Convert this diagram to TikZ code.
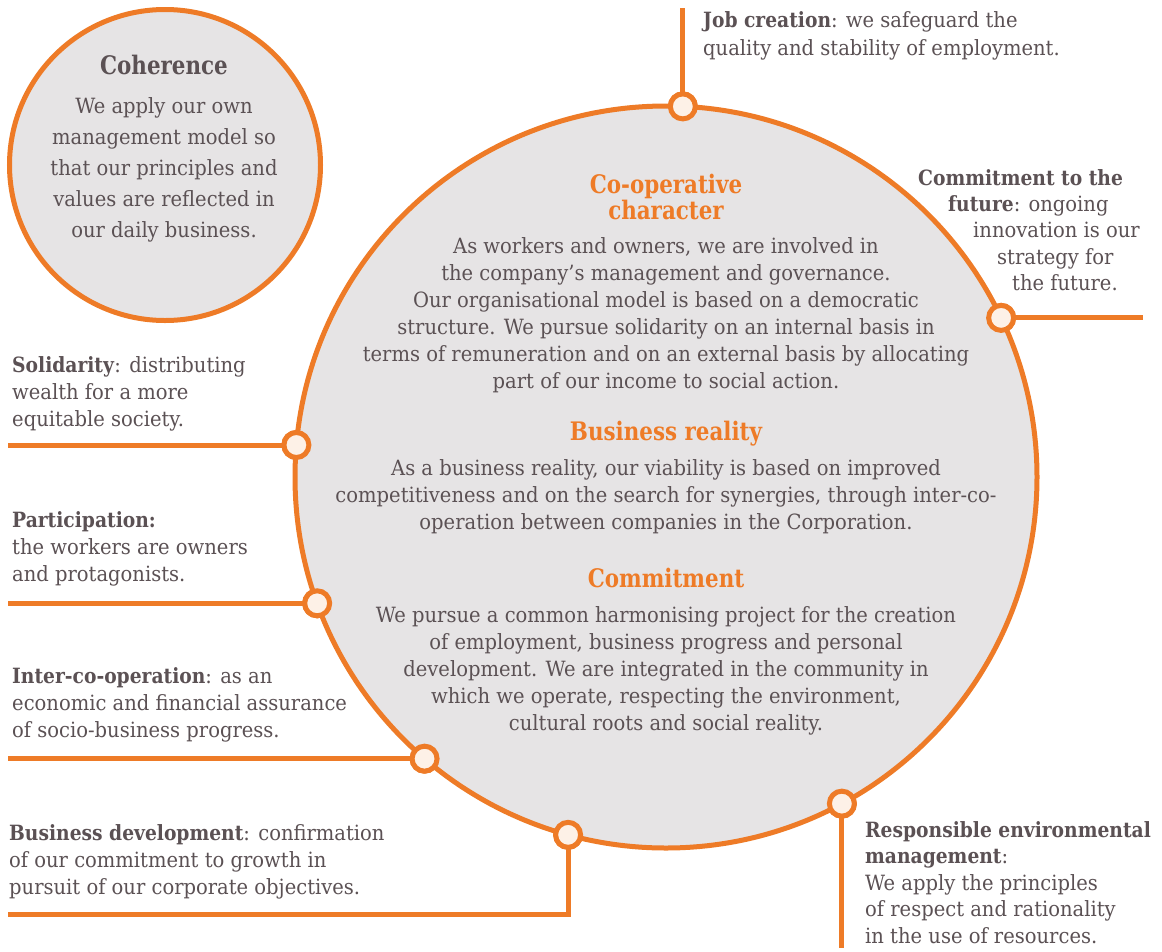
\documentclass[tikz,border=0pt]{standalone}
\usepackage{fontspec}
\setmainfont[FakeStretch=0.93,BoldFeatures={FakeStretch=0.89}]{DejaVu Serif}
\newfontfamily\condfont[FakeStretch=0.84]{DejaVu Serif}
\usetikzlibrary{calc}
\definecolor{orng}{HTML}{EE7B27}
\definecolor{circfill}{HTML}{E6E4E5}
\definecolor{txt}{HTML}{5B5154}
\definecolor{dotfill}{HTML}{FDF1E7}
\newcommand\st{\rule{0pt}{20pt}}
\begin{document}
\begin{tikzpicture}[x=1pt,y=-1pt,
  conn/.style={draw=orng,line width=5pt},
  ring/.style={draw=orng,fill=circfill,line width=5pt},
  dotnode/.style={circle,draw=orng,fill=dotfill,line width=5pt,minimum size=25pt,inner sep=0pt},
  body/.style={inner sep=0pt,text=txt,align=center,anchor=north,font=\fontsize{21}{27}\selectfont},
  lbl/.style={inner sep=0pt,text=txt,align=left,anchor=north west,font=\fontsize{21}{27}\selectfont},
  head/.style={inner sep=0pt,text=orng,align=center,anchor=north,font=\condfont\bfseries\fontsize{25.5}{26.5}\selectfont}]
\fill[white] (0,0) rectangle (1162,951);
\useasboundingbox (0,0) rectangle (1162,951);

% coherence circle
\draw[ring] (165,165) circle[radius=155.5];
\node[head,text=txt,font=\condfont\bfseries\fontsize{25.5}{28}\selectfont] (cohh) at (164,74-20) {\st Coherence};
\node[body,font=\fontsize{21}{31}\selectfont] (cohb) at (164,113-20) {\st We apply our own\\management model so\\that our principles and\\values are reflected in\\our daily business.};

% main circle and dots
\coordinate (c) at (666,477);
\node[dotnode] (djob) at ($(c)+(-87.4:371)$) {};
\node[dotnode] (dfut) at ($(c)+(-25.4:371)$) {};
\node[dotnode] (dsol) at ($(c)+(-175.05:371)$) {};
\node[dotnode] (dpar) at ($(c)+(160.1:371)$) {};
\node[dotnode] (dint) at ($(c)+(130.6:371)$) {};
\node[dotnode] (dbus) at ($(c)+(105.3:371)$) {};
\node[dotnode] (denv) at ($(c)+(61.7:371)$) {};

\coordinate (ejob) at (djob |- 0,8);
\coordinate (efut) at (dfut -| 1143,0);
\coordinate (esol) at (dsol -| 8,0);
\coordinate (epar) at (dpar -| 8,0);
\coordinate (eint) at (dint -| 8,0);
\coordinate (ebus) at (8,914);
\coordinate (eenv) at (denv |- 0,948);

\draw[conn] (djob.center) -- (ejob);
\draw[conn] (dfut.center) -- (efut);
\draw[conn] (dsol.center) -- (esol);
\draw[conn] (dpar.center) -- (epar);
\draw[conn] (dint.center) -- (eint);
\draw[conn] (dbus.center) |- (ebus);
\draw[conn] (denv.center) -- (eenv);

\draw[ring] (c) circle[radius=371];
\foreach \d in {djob,dfut,dsol,dpar,dint,dbus,denv}
  \draw[orng,fill=dotfill,line width=5pt] (\d.center) circle[radius=12.5];

% central texts
\node[head] (h1) at (666,193-20) {\st Co-operative\\character};
\node[body] (b1) at (666,253-20) {\st As workers and owners, we are involved in\\the company’s management and governance.\\Our organisational model is based on a democratic\\structure. We pursue solidarity on an internal basis in\\terms of remuneration and on an external basis by allocating\\part of our income to social action.};
\node[head] (h2) at (666,440-20) {\st Business reality};
\node[body] (b2) at (666,475-20) {\st As a business reality, our viability is based on improved\\competitiveness and on the search for synergies, through inter-co-\\operation between companies in the Corporation.};
\node[head] (h3) at (666,587-20) {\st Commitment};
\node[body] (b3) at (666,622-20) {\st We pursue a common harmonising project for the creation\\of employment, business progress and personal\\development. We are integrated in the community in\\which we operate, respecting the environment,\\cultural roots and social reality.};

% outer labels
\node[lbl,font=\fontsize{21}{28}\selectfont] (ljob) at (703,27-20) {\st\textbf{Job creation}: we safeguard the\\quality and stability of employment.};
\node[lbl,font=\fontsize{21}{26.3}\selectfont] (lfut) at (918,185-20) {\st\textbf{Commitment to the}\\\hspace*{30pt}\textbf{future}: ongoing\\\hspace*{55pt}innovation is our\\\hspace*{79pt}strategy for\\\hspace*{94pt}the future.};
\node[lbl] (lsol) at (12,372-20) {\st\textbf{Solidarity}: distributing\\wealth for a more\\equitable society.};
\node[lbl] (lpar) at (12,527-20) {\st\textbf{Participation:}\\the workers are owners\\and protagonists.};
\node[lbl] (lint) at (12,683-20) {\st\textbf{Inter-co-operation}: as an\\economic and financial assurance\\of socio-business progress.};
\node[lbl] (lbus) at (9,840-20) {\st\textbf{Business development}: confirmation\\of our commitment to growth in\\pursuit of our corporate objectives.};
\node[lbl,font=\fontsize{21}{26.5}\selectfont] (lenv) at (865,837-20) {\st\textbf{Responsible environmental}\\\textbf{management}:\\We apply the principles\\of respect and rationality\\in the use of resources.};
\end{tikzpicture}
\end{document}
